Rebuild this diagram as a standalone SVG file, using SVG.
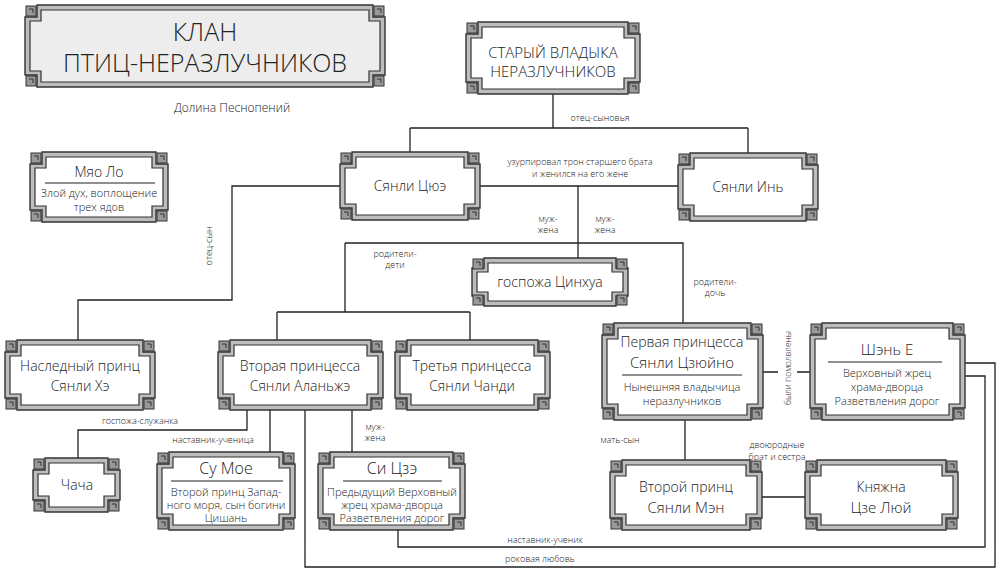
<svg xmlns="http://www.w3.org/2000/svg" width="1000" height="574" viewBox="0 0 1000 574">
<style>
text{font-family:"Open Sans","Liberation Sans",sans-serif;fill:#222;text-anchor:middle;font-weight:300}
.o{fill:#bdbdbd;stroke:#333;stroke-width:1.4}
.i{fill:#fff;stroke:#333;stroke-width:1.2}
.t{fill:#ededed;stroke:#333;stroke-width:1.2}
.c{fill:#999;stroke:#333;stroke-width:1}
.l{fill:none;stroke:#222;stroke-width:1.3}
.s{font-size:9px}
.m{font-size:14px}
.n{font-size:11px}
.hr{stroke:#222;stroke-width:1.2}
</style>
<g id="connectors">
<path class="l" d="M553 94V128M410 128H748M410 128V152M748 128V153"/>
<path class="l" d="M480 186H678M578 186V258M345 243H683V323M345 243V312M277 312H470M277 312V340M470 312V340"/>
<path class="l" d="M340 186H232V300H78V340"/>
<path class="l" d="M247 410V430H78V458M270 410V452M352 410V452M305 410V567H995V363H965M398 530V547H985V376H965"/>
<path class="l" d="M763 372H778M797 372H810M685 420V460M762 497H805"/>
</g>
<g id="labels">
<text class="s" x="600" y="121">отец-сыновья</text>
<text class="s" x="580" y="165">узурпировал трон старшего брата</text>
<text class="s" x="580" y="177">и женился на его жене</text>
<text class="s" x="548" y="222">муж-</text><text class="s" x="548" y="233">жена</text>
<text class="s" x="605" y="222">муж-</text><text class="s" x="605" y="233">жена</text>
<text class="s" x="395" y="257">родители-</text><text class="s" x="395" y="268">дети</text>
<text class="s" x="715" y="285">родители-</text><text class="s" x="715" y="296">дочь</text>
<text class="s" x="0" y="0" transform="translate(212,246) rotate(-90)">отец-сын</text>
<text font-size="8.5" x="0" y="0" transform="translate(791,368) rotate(-90)">были помолвлены</text>
<text class="s" x="140" y="424">госпожа-служанка</text>
<text class="s" x="213" y="443">наставник-ученица</text>
<text class="s" x="375" y="430">муж-</text><text class="s" x="375" y="441">жена</text>
<text class="s" x="620" y="443">мать-сын</text>
<text class="s" x="777" y="448">двоюродные</text><text class="s" x="777" y="460">брат и сестра</text>
<text class="s" x="545" y="543">наставник-ученик</text>
<text class="s" x="540" y="562">роковая любовь</text>
<text x="232" y="112" font-size="12">Долина Песнопений</text>
</g>
<defs>
<g id="cr"><rect class="c" x="-5" y="-5" width="10" height="10"/><path d="M-2 -2H2V2" fill="none" stroke="#333" stroke-width="1"/></g>
</defs>
<g id="title">
<path class="o" d="M37 5H373V17H385V75H373V87H37V75H25V17H37Z"/>
<path class="t" d="M41 10H369V21H380V71H369V82H41V71H30V21H41Z"/>
<use href="#cr" x="31" y="11"/><use href="#cr" x="379" y="11"/><use href="#cr" x="31" y="81"/><use href="#cr" x="379" y="81"/>
<text x="205" y="41" font-size="25">КЛАН</text>
<text x="205" y="72" font-size="25">ПТИЦ-НЕРАЗЛУЧНИКОВ</text>
</g>
<g id="n-old">
<path class="o" d="M478 22H628V34H640V82H628V94H478V82H466V34H478Z"/>
<path class="i" d="M482 27H624V38H635V78H624V89H482V78H471V38H482Z"/>
<use href="#cr" x="472" y="28"/><use href="#cr" x="634" y="28"/><use href="#cr" x="472" y="88"/><use href="#cr" x="634" y="88"/>
<text x="553" y="58" font-size="15">СТАРЫЙ ВЛАДЫКА</text><text x="553" y="77" font-size="15">НЕРАЗЛУЧНИКОВ</text>
</g>
<g id="n-myao">
<path class="o" d="M42 152H156V164H168V210H156V222H42V210H30V164H42Z"/>
<path class="i" d="M46 157H152V168H163V206H152V217H46V206H35V168H46Z"/>
<use href="#cr" x="36" y="158"/><use href="#cr" x="162" y="158"/><use href="#cr" x="36" y="216"/><use href="#cr" x="162" y="216"/>
<text class="m" x="99" y="177">Мяо Ло</text><line class="hr" x1="45" y1="183" x2="155" y2="183"/>
<text class="n" x="99" y="197">Злой дух, воплощение</text><text class="n" x="99" y="211">трех ядов</text>
</g>
<g id="n-cue">
<path class="o" d="M352 152H468V164H480V208H468V220H352V208H340V164H352Z"/>
<path class="i" d="M356 157H464V168H475V204H464V215H356V204H345V168H356Z"/>
<use href="#cr" x="346" y="158"/><use href="#cr" x="474" y="158"/><use href="#cr" x="346" y="214"/><use href="#cr" x="474" y="214"/>
<text class="m" x="410" y="191">Сянли Цюэ</text>
</g>
<g id="n-in">
<path class="o" d="M690 153H806V165H818V209H806V221H690V209H678V165H690Z"/>
<path class="i" d="M694 158H802V169H813V205H802V216H694V205H683V169H694Z"/>
<use href="#cr" x="684" y="159"/><use href="#cr" x="812" y="159"/><use href="#cr" x="684" y="215"/><use href="#cr" x="812" y="215"/>
<text class="m" x="748" y="192">Сянли Инь</text>
</g>
<g id="n-cin">
<path class="o" d="M484 258H616V268H628V296H616V306H484V296H472V268H484Z"/>
<path class="i" d="M488 263H612V272H623V292H612V301H488V292H477V272H488Z"/>
<use href="#cr" x="478" y="264"/><use href="#cr" x="622" y="264"/><use href="#cr" x="478" y="300"/><use href="#cr" x="622" y="300"/>
<text class="m" x="550" y="287">госпожа Цинхуа</text>
</g>
<g id="n-he">
<path class="o" d="M17 340H143V352H155V398H143V410H17V398H5V352H17Z"/>
<path class="i" d="M21 345H139V356H150V394H139V405H21V394H10V356H21Z"/>
<use href="#cr" x="11" y="346"/><use href="#cr" x="149" y="346"/><use href="#cr" x="11" y="404"/><use href="#cr" x="149" y="404"/>
<text class="m" x="80" y="371">Наследный принц</text><text class="m" x="80" y="391">Сянли Хэ</text>
</g>
<g id="n-alan">
<path class="o" d="M230 340H371V352H383V398H371V410H230V398H218V352H230Z"/>
<path class="i" d="M234 345H367V356H378V394H367V405H234V394H223V356H234Z"/>
<use href="#cr" x="224" y="346"/><use href="#cr" x="377" y="346"/><use href="#cr" x="224" y="404"/><use href="#cr" x="377" y="404"/>
<text class="m" x="300" y="371">Вторая принцесса</text><text class="m" x="300" y="391">Сянли Аланьжэ</text>
</g>
<g id="n-chandi">
<path class="o" d="M407 340H538V352H550V398H538V410H407V398H395V352H407Z"/>
<path class="i" d="M411 345H534V356H545V394H534V405H411V394H400V356H411Z"/>
<use href="#cr" x="401" y="346"/><use href="#cr" x="544" y="346"/><use href="#cr" x="401" y="404"/><use href="#cr" x="544" y="404"/>
<text class="m" x="472" y="371">Третья принцесса</text><text class="m" x="472" y="391">Сянли Чанди</text>
</g>
<g id="n-czuino">
<path class="o" d="M614 323H751V335H763V408H751V420H614V408H602V335H614Z"/>
<path class="i" d="M618 328H747V339H758V404H747V415H618V404H607V339H618Z"/>
<use href="#cr" x="608" y="329"/><use href="#cr" x="757" y="329"/><use href="#cr" x="608" y="414"/><use href="#cr" x="757" y="414"/>
<text class="m" x="682" y="347">Первая принцесса</text><text x="682" y="368" font-size="15">Сянли Цзюйно</text>
<line class="hr" x1="622" y1="375" x2="742" y2="375"/>
<text class="n" x="682" y="391">Нынешняя владычица</text><text class="n" x="682" y="405">неразлучников</text>
</g>
<g id="n-shen">
<path class="o" d="M822 323H953V335H965V408H953V420H822V408H810V335H822Z"/>
<path class="i" d="M826 328H949V339H960V404H949V415H826V404H815V339H826Z"/>
<use href="#cr" x="816" y="329"/><use href="#cr" x="959" y="329"/><use href="#cr" x="816" y="414"/><use href="#cr" x="959" y="414"/>
<text x="887" y="355" font-size="15">Шэнь Е</text>
<line class="hr" x1="828" y1="362" x2="942" y2="362"/>
<text class="n" x="887" y="377">Верховный жрец</text><text class="n" x="887" y="391">храма-дворца</text><text class="n" x="887" y="405">Разветвления дорог</text>
</g>
<g id="n-chacha">
<path class="o" d="M45 458H108V470H120V500H108V512H45V500H33V470H45Z"/>
<path class="i" d="M49 463H104V474H115V496H104V507H49V496H38V474H49Z"/>
<use href="#cr" x="39" y="464"/><use href="#cr" x="114" y="464"/><use href="#cr" x="39" y="506"/><use href="#cr" x="114" y="506"/>
<text class="m" x="77" y="490">Чача</text>
</g>
<g id="n-sumoe">
<path class="o" d="M169 452H283V464H295V518H283V530H169V518H157V464H169Z"/>
<path class="i" d="M173 457H279V468H290V514H279V525H173V514H162V468H173Z"/>
<use href="#cr" x="163" y="458"/><use href="#cr" x="289" y="458"/><use href="#cr" x="163" y="524"/><use href="#cr" x="289" y="524"/>
<text x="226" y="474" font-size="16">Су Мое</text><line class="hr" x1="171" y1="481" x2="283" y2="481"/>
<text class="n" x="226" y="496">Второй принц Запад-</text><text class="n" x="226" y="509">ного моря, сын богини</text><text class="n" x="226" y="522">Цишань</text>
</g>
<g id="n-sice">
<path class="o" d="M330 452H453V464H465V518H453V530H330V518H318V464H330Z"/>
<path class="i" d="M334 457H449V468H460V514H449V525H334V514H323V468H334Z"/>
<use href="#cr" x="324" y="458"/><use href="#cr" x="459" y="458"/><use href="#cr" x="324" y="524"/><use href="#cr" x="459" y="524"/>
<text x="392" y="474" font-size="16">Си Цзэ</text><line class="hr" x1="343" y1="481" x2="442" y2="481"/>
<text class="n" x="392" y="496">Предыдущий Верховный</text><text class="n" x="392" y="509">жрец храма-дворца</text><text class="n" x="392" y="522">Разветвления дорог</text>
</g>
<g id="n-men">
<path class="o" d="M622 460H750V472H762V518H750V530H622V518H610V472H622Z"/>
<path class="i" d="M626 465H746V476H757V514H746V525H626V514H615V476H626Z"/>
<use href="#cr" x="616" y="466"/><use href="#cr" x="756" y="466"/><use href="#cr" x="616" y="524"/><use href="#cr" x="756" y="524"/>
<text class="m" x="686" y="492">Второй принц</text><text x="686" y="513" font-size="15">Сянли Мэн</text>
</g>
<g id="n-luy">
<path class="o" d="M817 460H946V472H958V518H946V530H817V518H805V472H817Z"/>
<path class="i" d="M821 465H942V476H953V514H942V525H821V514H810V476H821Z"/>
<use href="#cr" x="811" y="466"/><use href="#cr" x="952" y="466"/><use href="#cr" x="811" y="524"/><use href="#cr" x="952" y="524"/>
<text class="m" x="881" y="492">Княжна</text><text x="881" y="513" font-size="15">Цзе Люй</text>
</g>
</svg>
